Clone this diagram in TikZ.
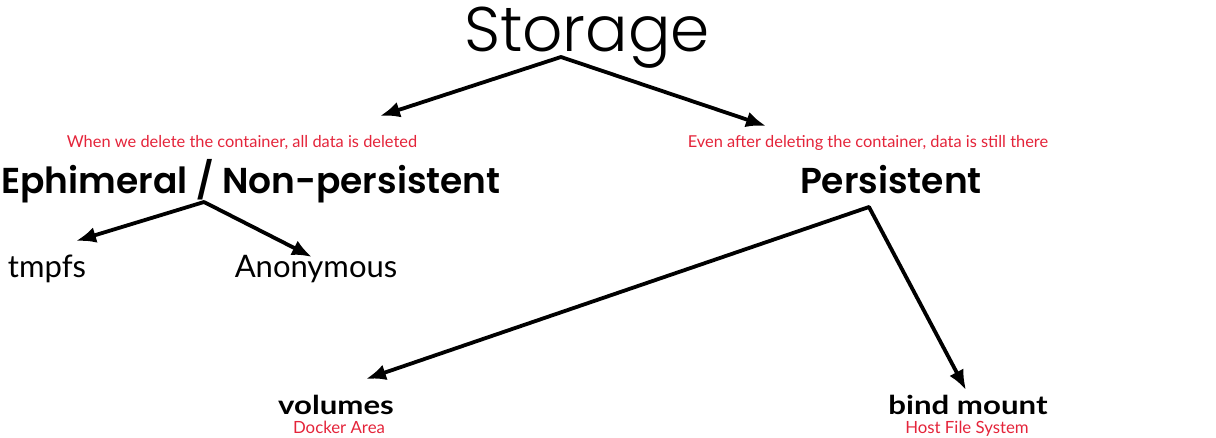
\documentclass[tikz,border=0pt]{standalone}
\usepackage{fontspec}
\setmainfont{Lato}
\newfontfamily\headfont{Poppins Light}
\newfontfamily\groupfont{Poppins SemiBold}
\newfontfamily\mountfont[FakeStretch=1.2]{Lato Bold}
\usetikzlibrary{arrows.meta}
\definecolor{notered}{RGB}{228,36,58}
\tikzset{
  head/.style={anchor=base,inner sep=0pt,font=\headfont\fontsize{63}{63}\selectfont},
  group/.style={anchor=base,inner sep=0pt,font=\groupfont\fontsize{36}{36}\selectfont},
  note/.style={anchor=base,inner sep=0pt,text=notered,font=\fontsize{16.4}{17}\selectfont},
  leaf/.style={anchor=base,inner sep=0pt,font=\fontsize{31}{31}\selectfont},
  mount/.style={anchor=base,inner sep=0pt,font=\mountfont\fontsize{26}{26}\selectfont},
  place/.style={anchor=base,inner sep=0pt,text=notered,font=\fontsize{16.8}{17}\selectfont},
  branch/.style={-{Latex[length=20pt,width=16pt]},line width=3.8pt,line cap=round},
}
\begin{document}
\begin{tikzpicture}[x=1pt,y=-1pt]
    \useasboundingbox (0,0) rectangle (1216,438);
    % top level
    \node[head] (storage) at (587,52) {Storage};
    \node[note] (ephnote) at (242,148) {When we delete the container, all data is deleted};
    \node[note] (pernote) at (868,148) {Even after deleting the container, data is still there};
    \node[group] (eph) at (251,194) {Ephimeral / Non-persistent};
    \node[group] (per) at (891,194) {Persistent};
    % second level
    \node[leaf] (tmpfs) at (47,278) {tmpfs};
    \node[leaf] (anon) at (316,278) {Anonymous};
    \node[mount] (volumes) at (336,414) {volumes};
    \node[place] (docker) at (339,433) {Docker Area};
    \node[mount] (bind) at (968,414) {bind mount};
    \node[place] (host) at (967,433) {Host File System};
    % fork points and arrow tips
    \coordinate (storage-fork) at (561,57);
    \coordinate (ephnote-tip) at (380,116);
    \coordinate (pernote-tip) at (766,126);
    \coordinate (eph-fork) at (204,202);
    \coordinate (tmpfs-tip) at (76,241);
    \coordinate (anon-tip) at (312,257);
    \coordinate (per-fork) at (869,207);
    \coordinate (volumes-tip) at (366,379);
    \coordinate (bind-tip) at (966,390);
    \draw[branch] (storage-fork) -- (ephnote-tip);
    \draw[branch] (storage-fork) -- (pernote-tip);
    \draw[branch] (eph-fork) -- (tmpfs-tip);
    \draw[branch] (eph-fork) -- (anon-tip);
    \draw[branch] (per-fork) -- (volumes-tip);
    \draw[branch] (per-fork) -- (bind-tip);
\end{tikzpicture}
\end{document}
